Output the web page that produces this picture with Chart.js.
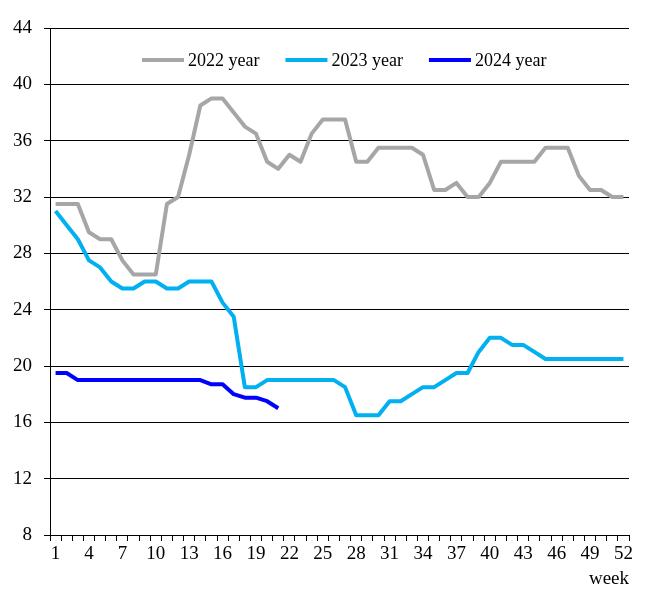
<!DOCTYPE html>
<html>
<head>
<meta charset="utf-8">
<script src="https://cdn.jsdelivr.net/npm/chart.js@4"></script>
<style>
  html, body { margin: 0; padding: 0; background: #fff; }
  canvas { display: block; }
</style>
</head>
<body>
<canvas id="chart" width="646" height="600"></canvas>
<script>
// week numbers on the x axis
const weeks = ['1','2','3','4','5','6','7','8','9','10','11','12','13','14','15','16','17','18','19','20',
  '21','22','23','24','25','26','27','28','29','30','31','32','33','34','35','36','37','38','39','40',
  '41','42','43','44','45','46','47','48','49','50','51','52'];

const year2022 = [31.5, 31.5, 31.5, 29.5, 29, 29, 27.5, 26.5, 26.5, 26.5, 31.5, 32, 35, 38.5, 39, 39, 38, 37, 36.5, 34.5,
  34, 35, 34.5, 36.5, 37.5, 37.5, 37.5, 34.5, 34.5, 35.5, 35.5, 35.5, 35.5, 35, 32.5, 32.5, 33, 32, 32, 33,
  34.5, 34.5, 34.5, 34.5, 35.5, 35.5, 35.5, 33.5, 32.5, 32.5, 32, 32];
const year2023 = [31, 30, 29, 27.5, 27, 26, 25.5, 25.5, 26, 26, 25.5, 25.5, 26, 26, 26, 24.5, 23.5, 18.5, 18.5, 19,
  19, 19, 19, 19, 19, 19, 18.5, 16.5, 16.5, 16.5, 17.5, 17.5, 18, 18.5, 18.5, 19, 19.5, 19.5, 21, 22,
  22, 21.5, 21.5, 21, 20.5, 20.5, 20.5, 20.5, 20.5, 20.5, 20.5, 20.5];
const year2024 = [19.5, 19.5, 19, 19, 19, 19, 19, 19, 19, 19, 19, 19, 19, 19, 18.7, 18.7, 18, 17.75, 17.75, 17.5, 17];

const FONT = '"Liberation Serif", "Times New Roman", serif';

// legend drawn inside the plot area, like the original
const innerLegend = {
  id: 'innerLegend',
  afterDraw(chart) {
    const ctx = chart.ctx;
    let x = 142;
    const y = 60;
    ctx.save();
    ctx.font = '18px ' + FONT;
    ctx.textBaseline = 'middle';
    ctx.textAlign = 'left';
    chart.data.datasets.forEach(ds => {
      ctx.strokeStyle = ds.borderColor;
      ctx.lineWidth = 4;
      ctx.beginPath();
      ctx.moveTo(x, y);
      ctx.lineTo(x + 42, y);
      ctx.stroke();
      ctx.fillStyle = '#000';
      ctx.fillText(ds.label, x + 46, y + 1);
      x += 46 + ctx.measureText(ds.label).width + 26;
    });
    ctx.restore();
  }
};

const ds = (label, data, color) => ({
  label: label,
  data: data,
  borderColor: color,
  backgroundColor: color,
  borderWidth: 4,
  pointRadius: 0,
  tension: 0,
  borderJoinStyle: 'round',
  fill: false
});

new Chart(document.getElementById('chart').getContext('2d'), {
  type: 'line',
  data: {
    labels: weeks,
    datasets: [
      ds('2022 year', year2022, '#A6A6A6'),
      ds('2023 year', year2023, '#00B0F0'),
      ds('2024 year', year2024, '#0000FF')
    ]
  },
  options: {
    responsive: false,
    animation: false,
    devicePixelRatio: 1,
    layout: { padding: { top: 28, right: 17, bottom: 0, left: 0 } },
    plugins: {
      legend: { display: false },
      tooltip: { enabled: false }
    },
    scales: {
      x: {
        type: 'category',
        offset: true,
        afterFit: scale => { scale.height = 65; },
        grid: { drawOnChartArea: false, offset: true, tickLength: 6, color: '#000', lineWidth: 1 },
        border: { color: '#000', width: 1 },
        ticks: {
          autoSkip: false,
          maxRotation: 0,
          padding: 2,
          color: '#000',
          font: { family: FONT, size: 19 },
          callback: function (value, index) {
            return index % 3 === 0 ? this.getLabelForValue(value) : '';
          }
        },
        title: {
          display: true,
          text: 'week',
          align: 'end',
          color: '#000',
          font: { family: FONT, size: 19 },
          padding: { top: 0, bottom: 10 }
        }
      },
      y: {
        min: 8,
        max: 44,
        afterFit: scale => { scale.width = 50; },
        grid: { color: '#000', lineWidth: 1, tickLength: 6 },
        border: { color: '#000', width: 1 },
        ticks: {
          stepSize: 4,
          padding: 12,
          color: '#000',
          font: { family: FONT, size: 19 }
        }
      }
    }
  },
  plugins: [innerLegend]
});
</script>
</body>
</html>
